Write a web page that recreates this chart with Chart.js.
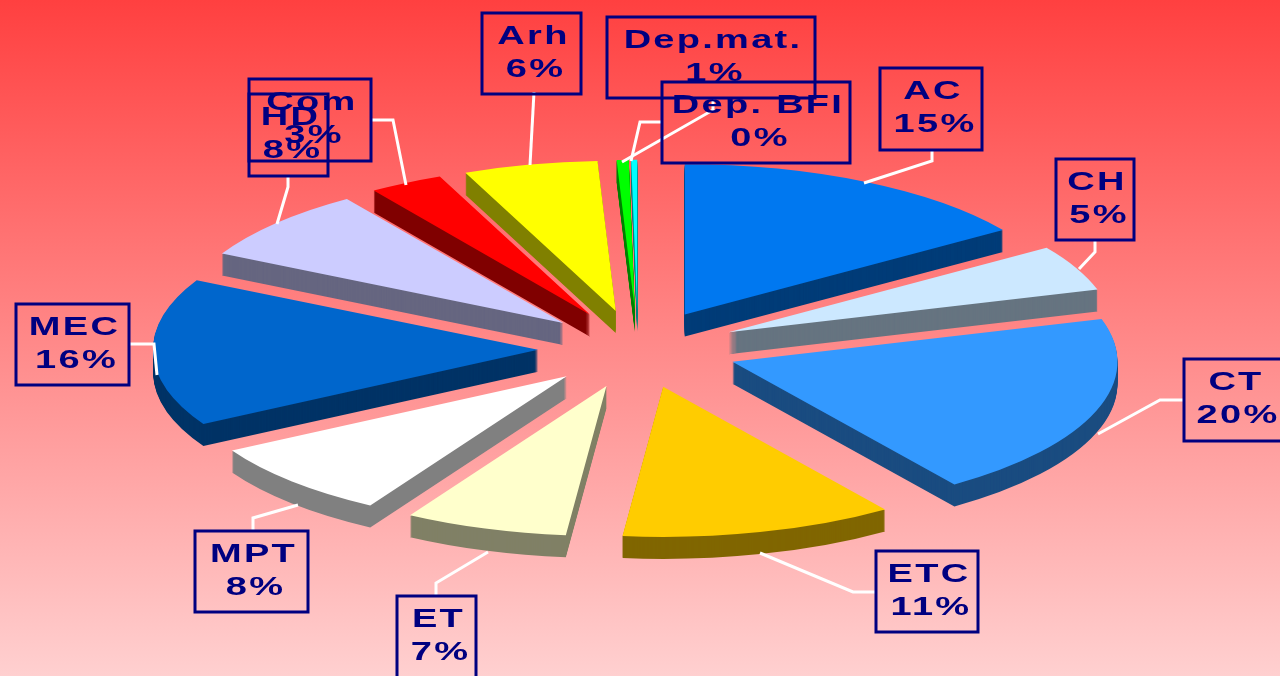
<!DOCTYPE html>
<html>
<head>
<meta charset="utf-8">
<title>Pie</title>
<script src="https://cdn.jsdelivr.net/npm/chart.js@4/dist/chart.umd.js"></script>
<style>
  html, body { margin: 0; padding: 0; overflow: hidden; background: #ff9c9c; }
  canvas { display: block; }
</style>
</head>
<body>
<canvas id="chart" width="1280" height="676"></canvas>
<script>
// Values
const categories = ['AC', 'CH', 'CT', 'ETC', 'ET', 'MPT', 'MEC', 'HD', 'Com', 'Arh', 'Dep.mat.', 'Dep. BFI'];
const shares = [15.4, 4.9, 19.7, 11.4, 6.8, 8.2, 15.8, 7.8, 3.1, 5.6, 0.5, 0.25];
const topColors = ['#0078f0', '#cce8ff', '#3399ff', '#ffcc00', '#ffffcc', '#ffffff', '#0066cc', '#ccccff', '#ff0000', '#ffff00', '#00ff00', '#00ffff'];
const sideColors = ['#003c78', '#667480', '#1a4c80', '#806600', '#808066', '#808080', '#003366', '#666680', '#800000', '#808000', '#008000', '#008080'];

// Label boxes: left, top, right, bottom
const labelBoxes = [
  [880, 68, 982, 150], [1056, 159, 1134, 240], [1184, 359, 1284, 441], [876, 551, 978, 632],
  [397, 596, 476, 680], [195, 531, 308, 612], [16, 304, 129, 385], [249, 94, 328, 176],
  [249, 79, 371, 161], [482, 13, 581, 94], [607, 17, 815, 98], [662, 82, 850, 163],
];

// White leader lines from box to slice
const leaderLines = [
  [[932, 149], [932, 161], [864, 183]],
  [[1095, 239], [1095, 252], [1079, 269]],
  [[1183, 400], [1160, 400], [1098, 434]],
  [[876, 592], [853, 592], [760, 553]],
  [[436, 596], [436, 583], [488, 552]],
  [[253, 531], [253, 518], [298, 505]],
  [[129, 344], [154, 344], [157, 375]],
  [[288, 175], [288, 187], [277, 224]],
  [[372, 120], [393, 120], [406, 185]],
  [[534, 92], [530, 165]],
  [[662, 122], [640, 122], [631, 161]],
  [[713, 97], [713, 110], [622, 162]],
];

// Fake 3D settings
const CENTER_X = 638;
const CENTER_Y = 349;
const TILT = 0.39;
const EXPLODE = 100;
const DEPTH = 22;
const TEXT_STRETCH = 1.52;

const drawArc = (ctx, arc, color, drop) => {
  const mid = (arc.startAngle + arc.endAngle) / 2;
  const shim = Object.create(arc);
  shim.options = {
    backgroundColor: color,
    borderColor: color,
    borderWidth: 0,
    borderAlign: 'center',
    borderRadius: 0,
    offset: 0,
    spacing: 0,
    circular: true,
  };
  ctx.save();
  ctx.translate(CENTER_X, CENTER_Y + drop);
  ctx.scale(1, TILT);
  ctx.translate(Math.cos(mid) * EXPLODE - arc.x, Math.sin(mid) * EXPLODE - arc.y);
  arc.draw.call(shim, ctx);
  ctx.restore();
};

const backgroundPlugin = {
  id: 'gradientBackground',
  beforeDraw(chart) {
    const { ctx, width, height } = chart;
    const gradient = ctx.createLinearGradient(0, 0, 0, height);
    gradient.addColorStop(0, '#ff4040');
    gradient.addColorStop(1, '#ffd0d0');
    ctx.save();
    ctx.fillStyle = gradient;
    ctx.fillRect(0, 0, width, height);
    ctx.restore();
  },
};

const tiltedPiePlugin = {
  id: 'tiltedPie',
  beforeDatasetDraw(chart, args) {
    const { ctx } = chart;
    const arcs = args.meta.data;
    // sides first, then the tops
    arcs.forEach((arc, i) => {
      for (let drop = DEPTH; drop > 0; drop--) {
        drawArc(ctx, arc, sideColors[i], drop);
      }
    });
    arcs.forEach((arc, i) => drawArc(ctx, arc, topColors[i], 0));
    return false;
  },
};

const drawStretchedText = (ctx, text, x, y) => {
  ctx.save();
  ctx.translate(x, y);
  ctx.scale(TEXT_STRETCH, 1);
  ctx.fillText(text, 0, 0);
  ctx.restore();
};

const labelPlugin = {
  id: 'boxLabels',
  afterDraw(chart) {
    const { ctx } = chart;
    ctx.save();
    ctx.strokeStyle = '#ffffff';
    ctx.lineWidth = 3;
    ctx.lineJoin = 'miter';
    leaderLines.forEach((line) => {
      ctx.beginPath();
      line.forEach(([x, y], i) => (i === 0 ? ctx.moveTo(x, y) : ctx.lineTo(x, y)));
      ctx.stroke();
    });

    ctx.font = 'bold 25px "Liberation Sans", Arial, sans-serif';
    ctx.letterSpacing = '1.5px';
    ctx.textAlign = 'center';
    ctx.textBaseline = 'alphabetic';
    ctx.fillStyle = '#000080';
    ctx.strokeStyle = '#000080';
    ctx.lineWidth = 3;
    categories.forEach((name, i) => {
      const [left, top, right, bottom] = labelBoxes[i];
      ctx.strokeRect(left, top, right - left, bottom - top);
      const middle = (left + right) / 2;
      drawStretchedText(ctx, name, middle + 2, top + 31);
      drawStretchedText(ctx, `${Math.round(shares[i])}%`, middle + 4, top + 64);
    });
    ctx.restore();
  },
};

new Chart(document.getElementById('chart').getContext('2d'), {
  type: 'pie',
  data: {
    labels: categories,
    datasets: [{
      data: shares,
      backgroundColor: topColors,
      borderWidth: 0,
      radius: 385,
    }],
  },
  options: {
    responsive: false,
    animation: false,
    layout: { padding: 0 },
    plugins: {
      legend: { display: false },
      tooltip: { enabled: false },
    },
  },
  plugins: [backgroundPlugin, tiltedPiePlugin, labelPlugin],
});
</script>
</body>
</html>
